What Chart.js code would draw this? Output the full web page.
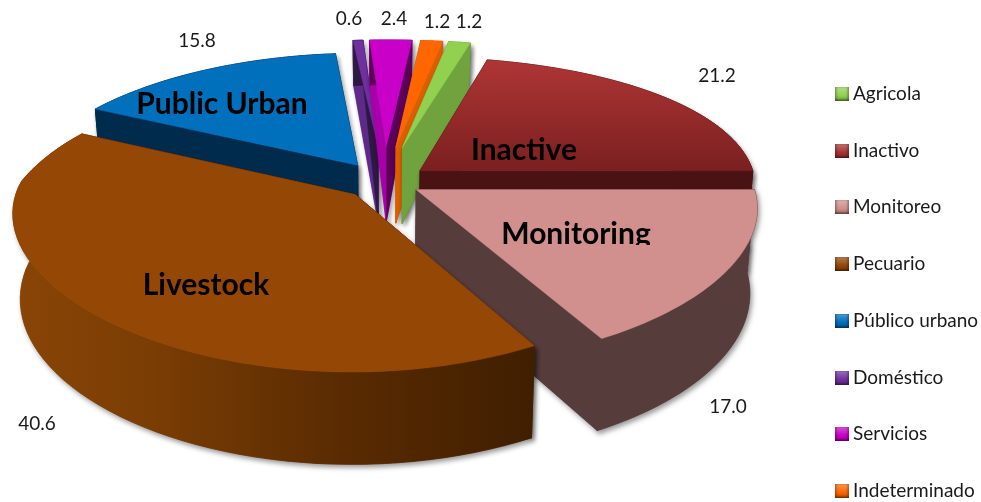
<!DOCTYPE html>
<html>
<head>
<meta charset="utf-8">
<script src="https://cdn.jsdelivr.net/npm/chart.js@4"></script>
<style>
  html, body { margin: 0; padding: 0; background: #fff; overflow: hidden; }
  #wrap { position: relative; width: 981px; height: 502px; }
  #legend div { position: absolute; left: 835px; font: 19px Lato, sans-serif; line-height: 20px; color: #1a1a1a; white-space: nowrap; }
  #legend i { display: inline-block; width: 14px; height: 14px; vertical-align: -1px; margin-right: 4px;
    background-image: linear-gradient(rgba(255,255,255,0.3), rgba(255,255,255,0) 60%, rgba(0,0,0,0.2));
    box-shadow: inset 2px 0 2px rgba(0,0,0,0.2), inset -2px 0 2px rgba(0,0,0,0.2), inset 0 -2px 2px rgba(0,0,0,0.3); }
</style>
</head>
<body>
<div id="wrap">
  <canvas id="pie" width="981" height="502"></canvas>
  <div id="legend"></div>
</div>
<script>
const categories = ["Agricola", "Inactivo", "Monitoreo", "Pecuario", "Público urbano", "Doméstico", "Servicios", "Indeterminado"];
const values = [1.2, 21.2, 17.0, 40.6, 15.8, 0.6, 2.4, 1.2];
const englishNames = ["Public Urban", "Inactive", "Monitoring", "Livestock"];

// styles
const explode = [90, 45, 36, 42, 50, 90, 90, 90];
const topColors = ["#92d050", "#a83333", "#d18f8d", "#954705", "#006fbc", "#7030a0", "#c800c8", "#ff6600"];
const startWall = ["#70a33e", "#4a1212", "#573c3c", "#4a2300", "#002b4d", "#5d2a8a", "#a800a8", "#d95f00"];
const endWall = ["#70a33e", "#4a1212", "#573c3c", "#4a2300", "#002b4d", "#2d1842", "#5a0058", "#d95f00"];
const drawOrder = [5, 6, 7, 0, 4, 1, 2, 3];

// text spots
const valueSpots = [[469, 22], [717, 76], [728, 407], [37, 424], [197, 41], [349, 19], [394, 19], [437, 22]];
const nameSpots = [[222, 104], [524, 150], [576, 234], [206, 285]];

// view of the tilted pie
const centerX = 385, centerY = 182, rimRadius = 336, tilt = 0.413;

function planePoint(el, angle, radius) {
  const mid = (el.startAngle + el.endAngle) / 2;
  const f = rimRadius / el.outerRadius;
  const u = radius * f * Math.cos(angle) + el.options.offset * Math.cos(mid);
  const v = radius * f * Math.sin(angle) + el.options.offset * Math.sin(mid);
  const vn = v / 340;
  const px = u < 0 && vn < 0 ? 0.22 : 0.12;
  return {
    x: centerX + u / (1 - px * vn),
    y: centerY + tilt * v / (1 - 0.19 * vn),
    vn: vn
  };
}

function dropPoint(p) {
  const depth = 81.8 + 18.85 * p.vn - 8.43 * p.vn * p.vn;
  return { x: centerX + (p.x - centerX) * 0.98, y: p.y + depth };
}

function rimPoints(el) {
  const pts = [];
  for (let i = 0; i <= 60; i++) {
    const a = el.startAngle + (el.endAngle - el.startAngle) * i / 60;
    pts.push(planePoint(el, a, el.outerRadius));
  }
  return pts;
}

function fillShape(ctx, pts, fill) {
  ctx.beginPath();
  pts.forEach((p, i) => i ? ctx.lineTo(p.x, p.y) : ctx.moveTo(p.x, p.y));
  ctx.closePath();
  ctx.fillStyle = fill;
  ctx.strokeStyle = fill;
  ctx.lineWidth = 0.5;
  ctx.fill();
  ctx.stroke();
}

function cutFace(ctx, apex, rim, fill) {
  fillShape(ctx, [apex, rim, dropPoint(rim), dropPoint(apex)], fill);
}

function rimFill(ctx, index) {
  if (index !== 3) return endWall[index];
  const g = ctx.createLinearGradient(10, 0, 540, 0);
  g.addColorStop(0, "#8a4506");
  g.addColorStop(0.27, "#7a3d04");
  g.addColorStop(0.6, "#5c2c02");
  g.addColorStop(1, "#3f1e00");
  return g;
}

function topFill(ctx, index) {
  if (index !== 1) return topColors[index];
  const g = ctx.createLinearGradient(0, 57, 0, 172);
  g.addColorStop(0, "#b03636");
  g.addColorStop(1, "#7a1f1f");
  return g;
}

function drawWalls(ctx, el, i) {
  const rim = rimPoints(el);
  const apex = planePoint(el, el.startAngle, 0);
  const mid = (el.startAngle + el.endAngle) / 2;
  if (Math.cos(mid) > 0) {
    cutFace(ctx, apex, rim[60], endWall[i]);
    cutFace(ctx, apex, rim[0], startWall[i]);
  } else {
    cutFace(ctx, apex, rim[0], startWall[i]);
    cutFace(ctx, apex, rim[60], endWall[i]);
  }
  fillShape(ctx, rim.concat(rim.map(dropPoint).reverse()), rimFill(ctx, i));
}

const piePlugin = {
  id: "tiltedPie",
  beforeDatasetDraw(chart) {
    const ctx = chart.ctx;
    const arcs = chart.getDatasetMeta(0).data;
    drawOrder.forEach(i => {
      const el = arcs[i];
      // first pass only leaves the soft shadow, second pass paints over the seams
      ctx.save();
      ctx.shadowColor = "rgba(0,0,0,0.4)";
      ctx.shadowBlur = 5;
      ctx.shadowOffsetX = 2;
      ctx.shadowOffsetY = 3;
      drawWalls(ctx, el, i);
      ctx.restore();
      drawWalls(ctx, el, i);
      fillShape(ctx, [planePoint(el, el.startAngle, 0)].concat(rimPoints(el)), topFill(ctx, i));
    });
    return false;
  },
  afterDraw(chart) {
    const ctx = chart.ctx;
    ctx.save();
    ctx.textAlign = "center";
    ctx.textBaseline = "middle";
    ctx.fillStyle = "#1a1a1a";
    ctx.font = "19px Lato, sans-serif";
    values.forEach((v, i) => ctx.fillText(v.toFixed(1), valueSpots[i][0], valueSpots[i][1]));
    ctx.fillStyle = "#000";
    ctx.font = "bold 30px Lato, sans-serif";
    englishNames.forEach((name, i) => {
      ctx.save();
      if (name === "Monitoring") {
        // the original label is cut off just under the baseline
        ctx.beginPath();
        ctx.rect(480, 200, 200, 45);
        ctx.clip();
      }
      ctx.fillText(name, nameSpots[i][0], nameSpots[i][1]);
      ctx.restore();
    });
    ctx.restore();
  }
};

new Chart(document.getElementById("pie"), {
  type: "pie",
  data: {
    labels: categories,
    datasets: [{ data: values, backgroundColor: topColors, offset: explode, borderWidth: 0 }]
  },
  options: {
    responsive: false,
    animation: false,
    rotation: 9.4,
    plugins: { legend: { display: false }, tooltip: { enabled: false } }
  },
  plugins: [piePlugin]
});

const legendBox = document.getElementById("legend");
categories.forEach((name, i) => {
  const row = document.createElement("div");
  row.style.top = (83 + i * 56.7) + "px";
  const box = document.createElement("i");
  box.style.backgroundColor = topColors[i];
  row.appendChild(box);
  row.appendChild(document.createTextNode(name));
  legendBox.appendChild(row);
});
</script>
</body>
</html>
